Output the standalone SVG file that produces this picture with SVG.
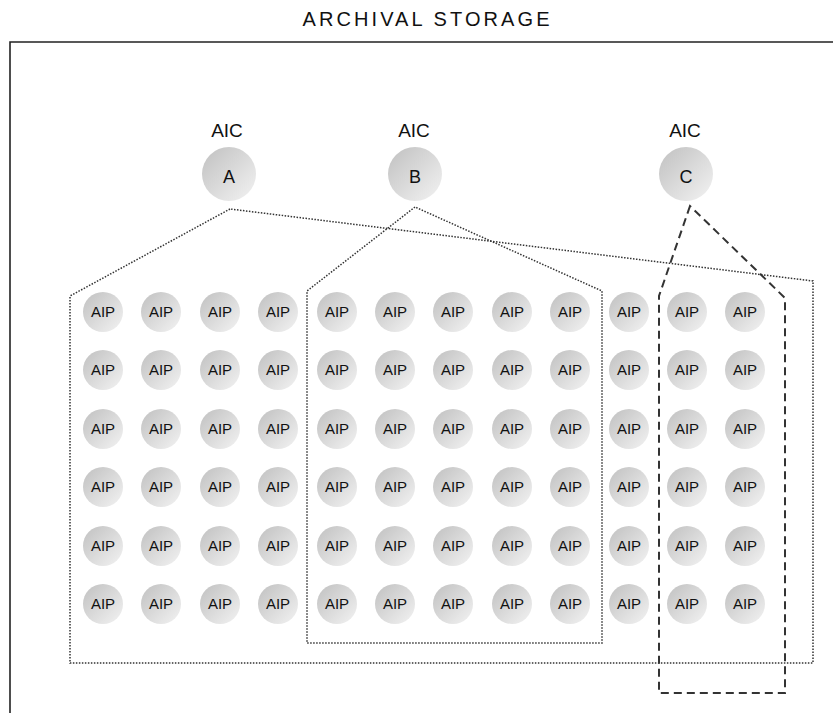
<svg xmlns="http://www.w3.org/2000/svg" width="833" height="713" viewBox="0 0 833 713">
<defs>
<linearGradient id="g" x1="0" y1="0" x2="1" y2="1">
<stop offset="0" stop-color="#c0c0c0"/>
<stop offset="1" stop-color="#f3f3f3"/>
</linearGradient>
<style>
.frame{fill:none;stroke:#222;stroke-width:1.6}
.dot{fill:none;stroke:#333;stroke-width:1.5;stroke-dasharray:1.5 1.5}
.dash{fill:none;stroke:#333;stroke-width:2;stroke-dasharray:8 5}
.aip circle{fill:url(#g)}
.aic circle{fill:url(#g)}
text{font-family:"Liberation Sans",Arial,sans-serif;fill:#111;text-anchor:middle}
.t{font-size:20px}
.lbl{font-size:19px}
.aip text{font-size:15px}
.aic text.in{font-size:18px}
</style>
</defs>
<rect width="833" height="713" fill="#fff"/>
<text class="t" x="426" y="26" textLength="247" lengthAdjust="spacing">ARCHIVAL STORAGE</text>
<g id="frame"><path class="frame" d="M10,713 V42 H833"/></g>
<g id="connectors">
<polygon class="dot" points="230,209 70,296 70,663 813,663 813,281 230,209"/>
<polygon class="dot" points="415,207 307,291 307,643 602,643 602,291"/>
<polygon class="dash" points="690,206 659,296 659,693 785,693 785,298"/>
</g>
<g id="aic-a" class="aic"><text class="lbl" x="227" y="137">AIC</text><circle cx="229" cy="174" r="27"/><text class="in" x="229" y="183">A</text></g>
<g id="aic-b" class="aic"><text class="lbl" x="414" y="137">AIC</text><circle cx="415" cy="174" r="27"/><text class="in" x="415" y="183">B</text></g>
<g id="aic-c" class="aic"><text class="lbl" x="685" y="137">AIC</text><circle cx="686" cy="174" r="27"/><text class="in" x="686" y="183">C</text></g>
<g id="aip-1-1" class="aip"><circle cx="103" cy="312" r="20"/><text x="103" y="317">AIP</text></g>
<g id="aip-1-2" class="aip"><circle cx="161" cy="312" r="20"/><text x="161" y="317">AIP</text></g>
<g id="aip-1-3" class="aip"><circle cx="220" cy="312" r="20"/><text x="220" y="317">AIP</text></g>
<g id="aip-1-4" class="aip"><circle cx="278" cy="312" r="20"/><text x="278" y="317">AIP</text></g>
<g id="aip-1-5" class="aip"><circle cx="337" cy="312" r="20"/><text x="337" y="317">AIP</text></g>
<g id="aip-1-6" class="aip"><circle cx="395" cy="312" r="20"/><text x="395" y="317">AIP</text></g>
<g id="aip-1-7" class="aip"><circle cx="453" cy="312" r="20"/><text x="453" y="317">AIP</text></g>
<g id="aip-1-8" class="aip"><circle cx="512" cy="312" r="20"/><text x="512" y="317">AIP</text></g>
<g id="aip-1-9" class="aip"><circle cx="570" cy="312" r="20"/><text x="570" y="317">AIP</text></g>
<g id="aip-1-10" class="aip"><circle cx="629" cy="312" r="20"/><text x="629" y="317">AIP</text></g>
<g id="aip-1-11" class="aip"><circle cx="687" cy="312" r="20"/><text x="687" y="317">AIP</text></g>
<g id="aip-1-12" class="aip"><circle cx="745" cy="312" r="20"/><text x="745" y="317">AIP</text></g>
<g id="aip-2-1" class="aip"><circle cx="103" cy="370" r="20"/><text x="103" y="375">AIP</text></g>
<g id="aip-2-2" class="aip"><circle cx="161" cy="370" r="20"/><text x="161" y="375">AIP</text></g>
<g id="aip-2-3" class="aip"><circle cx="220" cy="370" r="20"/><text x="220" y="375">AIP</text></g>
<g id="aip-2-4" class="aip"><circle cx="278" cy="370" r="20"/><text x="278" y="375">AIP</text></g>
<g id="aip-2-5" class="aip"><circle cx="337" cy="370" r="20"/><text x="337" y="375">AIP</text></g>
<g id="aip-2-6" class="aip"><circle cx="395" cy="370" r="20"/><text x="395" y="375">AIP</text></g>
<g id="aip-2-7" class="aip"><circle cx="453" cy="370" r="20"/><text x="453" y="375">AIP</text></g>
<g id="aip-2-8" class="aip"><circle cx="512" cy="370" r="20"/><text x="512" y="375">AIP</text></g>
<g id="aip-2-9" class="aip"><circle cx="570" cy="370" r="20"/><text x="570" y="375">AIP</text></g>
<g id="aip-2-10" class="aip"><circle cx="629" cy="370" r="20"/><text x="629" y="375">AIP</text></g>
<g id="aip-2-11" class="aip"><circle cx="687" cy="370" r="20"/><text x="687" y="375">AIP</text></g>
<g id="aip-2-12" class="aip"><circle cx="745" cy="370" r="20"/><text x="745" y="375">AIP</text></g>
<g id="aip-3-1" class="aip"><circle cx="103" cy="429" r="20"/><text x="103" y="434">AIP</text></g>
<g id="aip-3-2" class="aip"><circle cx="161" cy="429" r="20"/><text x="161" y="434">AIP</text></g>
<g id="aip-3-3" class="aip"><circle cx="220" cy="429" r="20"/><text x="220" y="434">AIP</text></g>
<g id="aip-3-4" class="aip"><circle cx="278" cy="429" r="20"/><text x="278" y="434">AIP</text></g>
<g id="aip-3-5" class="aip"><circle cx="337" cy="429" r="20"/><text x="337" y="434">AIP</text></g>
<g id="aip-3-6" class="aip"><circle cx="395" cy="429" r="20"/><text x="395" y="434">AIP</text></g>
<g id="aip-3-7" class="aip"><circle cx="453" cy="429" r="20"/><text x="453" y="434">AIP</text></g>
<g id="aip-3-8" class="aip"><circle cx="512" cy="429" r="20"/><text x="512" y="434">AIP</text></g>
<g id="aip-3-9" class="aip"><circle cx="570" cy="429" r="20"/><text x="570" y="434">AIP</text></g>
<g id="aip-3-10" class="aip"><circle cx="629" cy="429" r="20"/><text x="629" y="434">AIP</text></g>
<g id="aip-3-11" class="aip"><circle cx="687" cy="429" r="20"/><text x="687" y="434">AIP</text></g>
<g id="aip-3-12" class="aip"><circle cx="745" cy="429" r="20"/><text x="745" y="434">AIP</text></g>
<g id="aip-4-1" class="aip"><circle cx="103" cy="487" r="20"/><text x="103" y="492">AIP</text></g>
<g id="aip-4-2" class="aip"><circle cx="161" cy="487" r="20"/><text x="161" y="492">AIP</text></g>
<g id="aip-4-3" class="aip"><circle cx="220" cy="487" r="20"/><text x="220" y="492">AIP</text></g>
<g id="aip-4-4" class="aip"><circle cx="278" cy="487" r="20"/><text x="278" y="492">AIP</text></g>
<g id="aip-4-5" class="aip"><circle cx="337" cy="487" r="20"/><text x="337" y="492">AIP</text></g>
<g id="aip-4-6" class="aip"><circle cx="395" cy="487" r="20"/><text x="395" y="492">AIP</text></g>
<g id="aip-4-7" class="aip"><circle cx="453" cy="487" r="20"/><text x="453" y="492">AIP</text></g>
<g id="aip-4-8" class="aip"><circle cx="512" cy="487" r="20"/><text x="512" y="492">AIP</text></g>
<g id="aip-4-9" class="aip"><circle cx="570" cy="487" r="20"/><text x="570" y="492">AIP</text></g>
<g id="aip-4-10" class="aip"><circle cx="629" cy="487" r="20"/><text x="629" y="492">AIP</text></g>
<g id="aip-4-11" class="aip"><circle cx="687" cy="487" r="20"/><text x="687" y="492">AIP</text></g>
<g id="aip-4-12" class="aip"><circle cx="745" cy="487" r="20"/><text x="745" y="492">AIP</text></g>
<g id="aip-5-1" class="aip"><circle cx="103" cy="546" r="20"/><text x="103" y="551">AIP</text></g>
<g id="aip-5-2" class="aip"><circle cx="161" cy="546" r="20"/><text x="161" y="551">AIP</text></g>
<g id="aip-5-3" class="aip"><circle cx="220" cy="546" r="20"/><text x="220" y="551">AIP</text></g>
<g id="aip-5-4" class="aip"><circle cx="278" cy="546" r="20"/><text x="278" y="551">AIP</text></g>
<g id="aip-5-5" class="aip"><circle cx="337" cy="546" r="20"/><text x="337" y="551">AIP</text></g>
<g id="aip-5-6" class="aip"><circle cx="395" cy="546" r="20"/><text x="395" y="551">AIP</text></g>
<g id="aip-5-7" class="aip"><circle cx="453" cy="546" r="20"/><text x="453" y="551">AIP</text></g>
<g id="aip-5-8" class="aip"><circle cx="512" cy="546" r="20"/><text x="512" y="551">AIP</text></g>
<g id="aip-5-9" class="aip"><circle cx="570" cy="546" r="20"/><text x="570" y="551">AIP</text></g>
<g id="aip-5-10" class="aip"><circle cx="629" cy="546" r="20"/><text x="629" y="551">AIP</text></g>
<g id="aip-5-11" class="aip"><circle cx="687" cy="546" r="20"/><text x="687" y="551">AIP</text></g>
<g id="aip-5-12" class="aip"><circle cx="745" cy="546" r="20"/><text x="745" y="551">AIP</text></g>
<g id="aip-6-1" class="aip"><circle cx="103" cy="604" r="20"/><text x="103" y="609">AIP</text></g>
<g id="aip-6-2" class="aip"><circle cx="161" cy="604" r="20"/><text x="161" y="609">AIP</text></g>
<g id="aip-6-3" class="aip"><circle cx="220" cy="604" r="20"/><text x="220" y="609">AIP</text></g>
<g id="aip-6-4" class="aip"><circle cx="278" cy="604" r="20"/><text x="278" y="609">AIP</text></g>
<g id="aip-6-5" class="aip"><circle cx="337" cy="604" r="20"/><text x="337" y="609">AIP</text></g>
<g id="aip-6-6" class="aip"><circle cx="395" cy="604" r="20"/><text x="395" y="609">AIP</text></g>
<g id="aip-6-7" class="aip"><circle cx="453" cy="604" r="20"/><text x="453" y="609">AIP</text></g>
<g id="aip-6-8" class="aip"><circle cx="512" cy="604" r="20"/><text x="512" y="609">AIP</text></g>
<g id="aip-6-9" class="aip"><circle cx="570" cy="604" r="20"/><text x="570" y="609">AIP</text></g>
<g id="aip-6-10" class="aip"><circle cx="629" cy="604" r="20"/><text x="629" y="609">AIP</text></g>
<g id="aip-6-11" class="aip"><circle cx="687" cy="604" r="20"/><text x="687" y="609">AIP</text></g>
<g id="aip-6-12" class="aip"><circle cx="745" cy="604" r="20"/><text x="745" y="609">AIP</text></g>
</svg>
